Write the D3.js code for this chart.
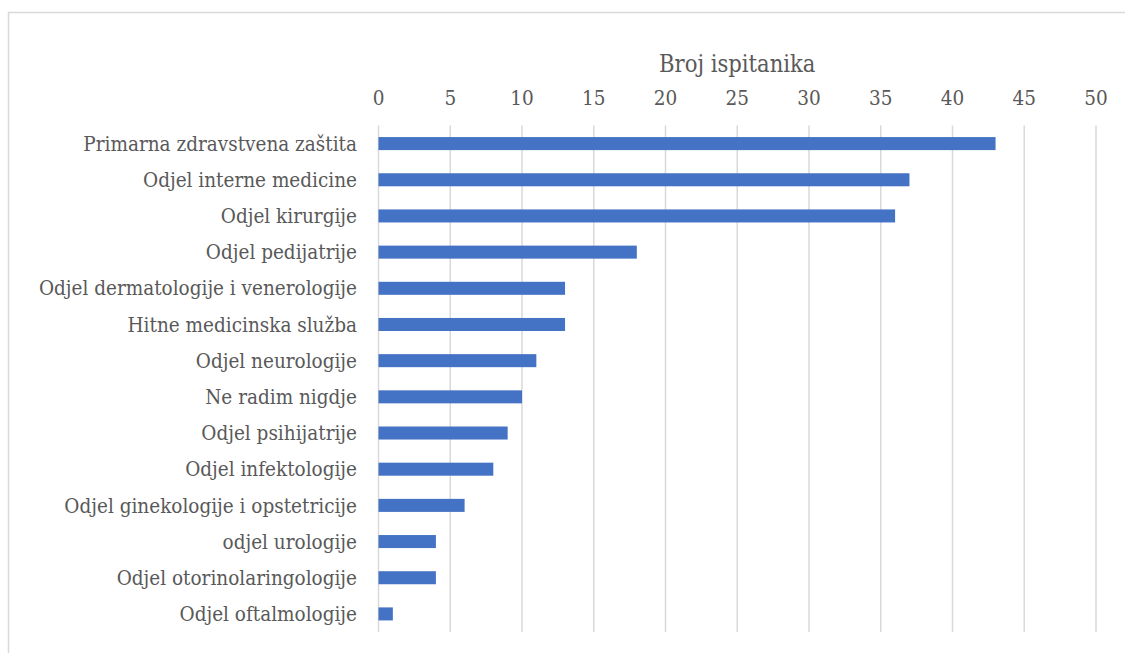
<!DOCTYPE html>
<html>
<head>
<meta charset="utf-8">
<script src="https://cdn.jsdelivr.net/npm/d3@7"></script>
<style>
  body { margin: 0; background: #fff; }
</style>
</head>
<body>
<svg id="chart" width="1125" height="653"></svg>
<script>
// data
var categories = [
    "Primarna zdravstvena zaštita",
    "Odjel interne medicine",
    "Odjel kirurgije",
    "Odjel pedijatrije",
    "Odjel dermatologije i venerologije",
    "Hitne medicinska služba",
    "Odjel neurologije",
    "Ne radim nigdje",
    "Odjel psihijatrije",
    "Odjel infektologije",
    "Odjel ginekologije i opstetricije",
    "odjel urologije",
    "Odjel otorinolaringologije",
    "Odjel oftalmologije"
]
var values = [43, 37, 36, 18, 13, 13, 11, 10, 9, 8, 6, 4, 4, 1]
var ticks = [0, 5, 10, 15, 20, 25, 30, 35, 40, 45, 50]
var axisTitle = "Broj ispitanika"

var plotLeft = 378.5, plotRight = 1096,
    plotTop = 125.5, plotBottom = 632;
var fontSize = "20.5px";
var titleSize = "23.5px";
var fontFamily = "'DejaVu Serif Condensed', 'DejaVu Serif', serif";

var svg = d3.select("#chart")
    .attr("font-family", fontFamily);

// chart border
svg.append("rect")
    .attr("x", 8.5).attr("y", 12.5)
    .attr("width", 1140).attr("height", 700)
    .attr("fill", "none")
    .attr("stroke", "#d9d9d9")
    .attr("stroke-width", 1.5);

var x = d3.scaleLinear().domain([0, 50]).range([plotLeft, plotRight]);
var y = d3.scaleBand().domain(categories).range([plotTop, plotBottom]).paddingInner(0.64).paddingOuter(0.32);

// gridlines
svg.append("g")
    .selectAll("line")
    .data(ticks)
    .join("line")
    .attr("x1", d => x(d)).attr("x2", d => x(d))
    .attr("y1", plotTop).attr("y2", plotBottom)
    .attr("stroke", "#d9d9d9")
    .attr("stroke-width", 1.5);

// tick labels on top
svg.append("g")
    .selectAll("text")
    .data(ticks)
    .join("text")
    .attr("x", d => x(d))
    .attr("y", 105)
    .attr("text-anchor", "middle")
    .attr("fill", "#595959")
    .attr("font-size", fontSize)
    .text(d => d);

svg.append("text")
    .attr("x", (plotLeft + plotRight) / 2)
    .attr("y", 72)
    .attr("text-anchor", "middle")
    .attr("fill", "#595959")
    .attr("font-size", titleSize)
    .text(axisTitle);

// bars
svg.append("g")
    .selectAll("rect")
    .data(values)
    .join("rect")
    .attr("x", x(0))
    .attr("y", (d, i) => y(categories[i]))
    .attr("width", d => x(d) - x(0))
    .attr("height", y.bandwidth())
    .attr("fill", "#4472c4");

// category labels
svg.append("g")
    .selectAll("text")
    .data(categories)
    .join("text")
    .attr("x", 357)
    .attr("y", d => y(d) + y.bandwidth() / 2)
    .attr("dy", "0.35em")
    .attr("text-anchor", "end")
    .attr("fill", "#595959")
    .attr("font-size", fontSize)
    .text(d => d);
</script>
</body>
</html>
